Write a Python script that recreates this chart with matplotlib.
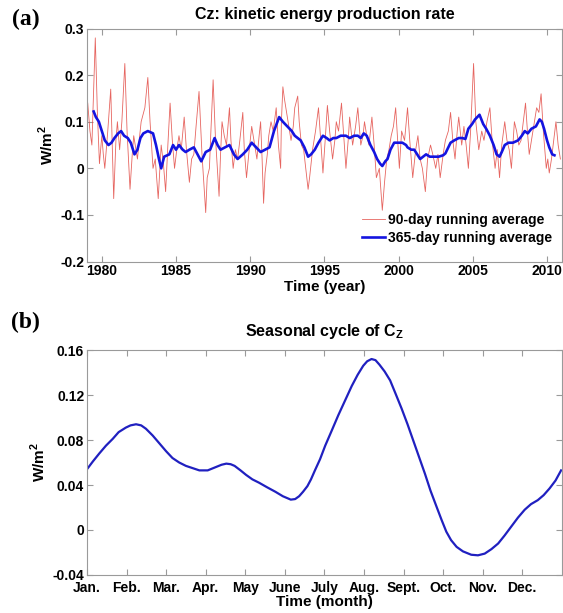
import numpy as np
import matplotlib
matplotlib.use("Agg")
import matplotlib.pyplot as plt
from matplotlib.ticker import FuncFormatter

plt.rcParams['font.family'] = ['Liberation Sans', 'DejaVu Sans']
plt.rcParams['font.weight'] = 'bold'
plt.rcParams['mathtext.fontset'] = 'custom'
plt.rcParams['mathtext.rm'] = 'Liberation Sans:bold'
plt.rcParams['mathtext.bf'] = 'Liberation Sans:bold'

# 90-day running average (year, W/m2)
red_year = [1979.05, 1979.2, 1979.33, 1979.45, 1979.56, 1979.7, 1979.84, 1980.0, 1980.1, 1980.2,
            1980.4, 1980.6, 1980.7, 1980.8, 1980.95, 1981.05, 1981.2, 1981.35, 1981.55, 1981.7,
            1981.9, 1982.05, 1982.15, 1982.3, 1982.4, 1982.55, 1982.65, 1982.9, 1983.1, 1983.25,
            1983.45, 1983.6, 1983.8, 1984.0, 1984.15, 1984.3, 1984.45, 1984.6, 1984.75, 1984.9,
            1985.05, 1985.2, 1985.35, 1985.55, 1985.7, 1985.9, 1986.05, 1986.2, 1986.35, 1986.55,
            1986.75, 1987.0, 1987.1, 1987.25, 1987.35, 1987.5, 1987.65, 1987.9, 1988.0, 1988.1,
            1988.25, 1988.4, 1988.6, 1988.7, 1988.85, 1989.0, 1989.15, 1989.3, 1989.5, 1989.6,
            1989.75, 1989.9, 1990.1, 1990.25, 1990.45, 1990.6, 1990.7, 1990.8, 1990.9, 1991.0,
            1991.15, 1991.25, 1991.4, 1991.55, 1991.75, 1991.9, 1992.05, 1992.1, 1992.2, 1992.3,
            1992.45, 1992.6, 1992.75, 1992.9, 1993.0, 1993.2, 1993.3, 1993.45, 1993.6, 1993.9,
            1994.0, 1994.2, 1994.4, 1994.6, 1994.75, 1994.9, 1995.05, 1995.2, 1995.35, 1995.55,
            1995.7, 1995.8, 1995.95, 1996.15, 1996.3, 1996.45, 1996.6, 1996.7, 1996.9, 1997.1,
            1997.25, 1997.45, 1997.6, 1997.7, 1997.85, 1998.0, 1998.2, 1998.35, 1998.5, 1998.7,
            1998.9, 1999.05, 1999.2, 1999.35, 1999.5, 1999.65, 1999.8, 1999.95, 2000.05, 2000.2,
            2000.4, 2000.6, 2000.75, 2000.95, 2001.15, 2001.3, 2001.45, 2001.6, 2001.8, 2001.95,
            2002.15, 2002.3, 2002.5, 2002.65, 2002.8, 2003.0, 2003.15, 2003.35, 2003.5, 2003.65,
            2003.8, 2003.95, 2004.05, 2004.25, 2004.4, 2004.55, 2004.7, 2004.85, 2005.05, 2005.2,
            2005.4, 2005.6, 2005.75, 2005.95, 2006.15, 2006.3, 2006.5, 2006.65, 2006.8, 2006.95,
            2007.15, 2007.3, 2007.45, 2007.6, 2007.8, 2007.95, 2008.1, 2008.25, 2008.4, 2008.55,
            2008.7, 2008.8, 2009.0, 2009.15, 2009.3, 2009.45, 2009.6, 2009.75, 2009.95, 2010.05,
            2010.15, 2010.3, 2010.45, 2010.6, 2010.75, 2010.9]
red_val = [0.14, 0.08, 0.05, 0.17, 0.28, 0.12, 0.01, 0.07, 0.03, 0.0,
           0.08, 0.17, 0.05, -0.065, 0.06, 0.1, 0.04, 0.1, 0.225, 0.08,
           -0.045, 0.03, 0.07, 0.04, 0.02, 0.07, 0.1, 0.13, 0.195, 0.1,
           0.0, 0.02, -0.065, 0.05, 0.01, -0.05, 0.05, 0.14, 0.06, 0.0,
           0.04, 0.07, 0.04, 0.11, 0.04, -0.03, 0.02, 0.03, 0.09, 0.165,
           0.03, -0.095, -0.02, 0.0, 0.08, 0.19, 0.07, -0.06, 0.03, 0.1,
           0.07, 0.05, 0.13, 0.06, 0.0, 0.04, 0.02, 0.06, 0.12, 0.04,
           -0.02, 0.03, 0.09, 0.06, 0.02, 0.07, 0.1, 0.02, -0.075, -0.01,
           0.03, 0.07, 0.1, 0.08, 0.13, 0.05, 0.0, 0.1, 0.175, 0.15,
           0.12, 0.09, 0.06, 0.09, 0.13, 0.155, 0.1, 0.05, 0.04, -0.045,
           -0.02, 0.04, 0.08, 0.13, 0.06, -0.01, 0.06, 0.135, 0.08, 0.02,
           0.06, 0.1, 0.08, 0.14, 0.07, 0.0, 0.06, 0.11, 0.05, 0.09,
           0.13, 0.05, 0.07, 0.1, 0.07, 0.05, 0.11, 0.05, -0.02, 0.0,
           -0.09, -0.03, 0.02, 0.04, 0.07, 0.09, 0.13, 0.05, 0.0, 0.08,
           0.06, 0.13, 0.06, -0.02, 0.04, 0.07, 0.02, 0.0, -0.05, 0.02,
           0.05, 0.03, 0.0, 0.03, -0.02, 0.03, 0.06, 0.08, 0.12, 0.06,
           0.02, 0.08, 0.11, 0.05, 0.09, 0.05, 0.0, 0.08, 0.225, 0.1,
           0.04, 0.08, 0.06, 0.1, 0.13, 0.06, 0.0, 0.04, -0.02, 0.05,
           0.1, 0.06, 0.04, 0.0, 0.1, 0.08, 0.05, 0.06, 0.1, 0.14,
           0.07, 0.03, 0.07, 0.1, 0.13, 0.12, 0.16, 0.08, 0.0, 0.02,
           -0.01, 0.02, 0.06, 0.1, 0.05, 0.02]

# 365-day running average
blue_year = [1979.45, 1979.6, 1979.8, 1980.0, 1980.2, 1980.45, 1980.65, 1980.85, 1981.1, 1981.3,
             1981.5, 1981.75, 1981.95, 1982.2, 1982.4, 1982.6, 1982.8, 1983.1, 1983.45, 1983.65,
             1983.85, 1984.0, 1984.2, 1984.55, 1984.8, 1985.0, 1985.2, 1985.45, 1985.65, 1985.9,
             1986.2, 1986.45, 1986.7, 1987.0, 1987.3, 1987.6, 1987.8, 1988.0, 1988.3, 1988.6,
             1988.9, 1989.15, 1989.5, 1989.8, 1990.1, 1990.4, 1990.7, 1991.0, 1991.3, 1991.6,
             1991.95, 1992.2, 1992.5, 1992.8, 1993.0, 1993.4, 1993.65, 1993.9, 1994.1, 1994.35,
             1994.6, 1994.9, 1995.15, 1995.35, 1995.6, 1995.8, 1996.1, 1996.45, 1996.7, 1997.0,
             1997.25, 1997.45, 1997.65, 1997.85, 1998.1, 1998.35, 1998.55, 1998.75, 1998.9, 1999.1,
             1999.25, 1999.45, 1999.7, 2000.0, 2000.25, 2000.5, 2000.6, 2000.85, 2001.05, 2001.25,
             2001.45, 2001.65, 2001.85, 2002.1, 2002.4, 2002.7, 2003.0, 2003.15, 2003.35, 2003.5,
             2003.75, 2004.05, 2004.3, 2004.5, 2004.7, 2004.95, 2005.15, 2005.45, 2005.7, 2005.9,
             2006.15, 2006.4, 2006.6, 2006.8, 2006.95, 2007.15, 2007.4, 2007.7, 2008.05, 2008.3,
             2008.5, 2008.7, 2008.95, 2009.25, 2009.5, 2009.65, 2009.8, 2010.0, 2010.15, 2010.35,
             2010.5]
blue_val = [0.122, 0.11, 0.1, 0.08, 0.06, 0.05, 0.055, 0.065, 0.075, 0.08,
            0.07, 0.065, 0.055, 0.03, 0.04, 0.065, 0.075, 0.08, 0.075, 0.05,
            0.02, 0.0, 0.025, 0.03, 0.05, 0.04, 0.05, 0.04, 0.035, 0.04,
            0.045, 0.03, 0.015, 0.035, 0.04, 0.065, 0.05, 0.04, 0.045, 0.05,
            0.03, 0.02, 0.03, 0.04, 0.055, 0.045, 0.035, 0.04, 0.045, 0.08,
            0.11, 0.1, 0.09, 0.08, 0.07, 0.06, 0.045, 0.025, 0.03, 0.04,
            0.055, 0.07, 0.065, 0.06, 0.065, 0.065, 0.07, 0.07, 0.065, 0.07,
            0.07, 0.065, 0.075, 0.07, 0.05, 0.035, 0.02, 0.01, 0.005, 0.015,
            0.02, 0.04, 0.055, 0.055, 0.055, 0.05, 0.045, 0.04, 0.04, 0.03,
            0.02, 0.025, 0.03, 0.025, 0.025, 0.025, 0.028, 0.032, 0.045, 0.055,
            0.06, 0.065, 0.065, 0.063, 0.085, 0.095, 0.105, 0.115, 0.095, 0.085,
            0.07, 0.05, 0.03, 0.025, 0.035, 0.05, 0.055, 0.055, 0.06, 0.07,
            0.08, 0.075, 0.085, 0.09, 0.105, 0.1, 0.085, 0.06, 0.045, 0.03,
            0.028]

# seasonal cycle (month position, Jan = 0)
month_pos = [0.0, 0.15, 0.31, 0.48, 0.65, 0.8, 0.98, 1.1, 1.24, 1.37, 1.49, 1.66, 1.83, 2.0,
             2.16, 2.33, 2.5, 2.67, 2.84, 3.05, 3.26, 3.4, 3.52, 3.63, 3.73, 3.88, 4.02, 4.18,
             4.35, 4.55, 4.76, 4.95, 5.05, 5.15, 5.26, 5.36, 5.46, 5.57, 5.66, 5.76, 5.89, 6.02,
             6.18, 6.35, 6.52, 6.69, 6.84, 6.98, 7.08, 7.19, 7.29, 7.39, 7.52, 7.66, 7.8, 7.95,
             8.1, 8.24, 8.39, 8.54, 8.68, 8.83, 8.96, 9.08, 9.2, 9.34, 9.5, 9.71, 9.88, 10.05,
             10.22, 10.39, 10.55, 10.72, 10.89, 11.06, 11.22, 11.39, 11.54, 11.69, 11.84, 11.98]
season_val = [0.054, 0.061, 0.068, 0.075, 0.081, 0.087, 0.091, 0.093, 0.094, 0.093, 0.090, 0.084,
              0.077, 0.070, 0.064, 0.060, 0.057, 0.055, 0.053, 0.053, 0.056, 0.058, 0.059, 0.0585,
              0.057, 0.053, 0.049, 0.045, 0.042, 0.038, 0.034, 0.030, 0.0285, 0.027, 0.0275, 0.030,
              0.034, 0.039, 0.045, 0.053, 0.063, 0.075, 0.088, 0.102, 0.115, 0.128, 0.138, 0.146,
              0.150, 0.152, 0.151, 0.147, 0.141, 0.133, 0.121, 0.108, 0.094, 0.080, 0.065, 0.050,
              0.035, 0.021, 0.009, -0.0015, -0.009, -0.015, -0.019, -0.022, -0.0225, -0.021,
              -0.017, -0.012, -0.005, 0.003, 0.011, 0.018, 0.023, 0.0265, 0.031, 0.037, 0.044, 0.053]
month_labels = ["Jan.", "Feb.", "Mar.", "Apr.", "May", "June", "July", "Aug.", "Sept.",
                "Oct.", "Nov.", "Dec."]

gray = "#9a9a9a"


def style_axes(ax, pad):
    for s in ax.spines.values():
        s.set_color(gray)
        s.set_linewidth(0.8)
    ax.tick_params(direction="in", top=True, right=True, length=4, width=0.8,
                   color=gray, labelsize=10, pad=2)
    ax.tick_params(axis="x", pad=pad)
    for lab in ax.get_xticklabels() + ax.get_yticklabels():
        lab.set_fontweight("bold")


fig = plt.figure(figsize=(5.63, 6.13), dpi=100)

# panel (a)
ax1 = fig.add_axes([0.1545, 0.5734, 0.8435, 0.380])
ax1.plot(red_year, red_val, color="#e24a44", lw=0.6, alpha=0.85, label="90-day running average")
ax1.plot(blue_year, blue_val, color="#1414e0", lw=1.9, label="365-day running average")
ax1.set_xlim(1979, 2011)
ax1.set_ylim(-0.2, 0.3)
ax1.set_xticks([1980, 1985, 1990, 1995, 2000, 2005, 2010])
ax1.set_yticks([-0.2, -0.1, 0, 0.1, 0.2, 0.3])
ax1.yaxis.set_major_formatter(FuncFormatter(lambda v, p: "%g" % round(v, 3)))
ax1.set_xlabel("Time (year)", fontsize=11, fontweight="bold", labelpad=1)
ax1.set_ylabel("W/m$^2$", fontsize=11, fontweight="bold", labelpad=3)
ax1.set_title("Cz: kinetic energy production rate", fontsize=11.5, fontweight="bold", pad=7)
leg = ax1.legend(loc="lower right", bbox_to_anchor=(1.0, 0.03), frameon=False, fontsize=10,
                 handlelength=1.7, borderaxespad=0.3, labelspacing=0.25, handletextpad=0.2)
for t in leg.get_texts():
    t.set_fontweight("bold")
style_axes(ax1, 2)

# panel (b)
ax2 = fig.add_axes([0.1545, 0.062, 0.8435, 0.367])
ax2.plot(month_pos, season_val, color="#2020c0", lw=1.6)
ax2.set_xlim(0, 12)
ax2.set_ylim(-0.04, 0.16)
ax2.set_xticks(range(12))
ax2.set_xticklabels(month_labels)
ax2.set_yticks([-0.04, 0, 0.04, 0.08, 0.12, 0.16])
ax2.yaxis.set_major_formatter(FuncFormatter(lambda v, p: "%g" % round(v, 3)))
ax2.set_xlabel("Time (month)", fontsize=11, fontweight="bold", labelpad=0)
ax2.set_ylabel("W/m$^2$", fontsize=11, fontweight="bold", labelpad=3)
ax2.set_title("Seasonal cycle of C$_\\mathbf{Z}$", fontsize=11.5, fontweight="bold", pad=10)
style_axes(ax2, 4)

fig.text(0.045, 0.968, "(a)", fontsize=17, fontweight="bold", family="Liberation Serif",
         ha="center", va="center")
fig.text(0.045, 0.474, "(b)", fontsize=17, fontweight="bold", family="Liberation Serif",
         ha="center", va="center")

fig.savefig("out.png", dpi=100)
